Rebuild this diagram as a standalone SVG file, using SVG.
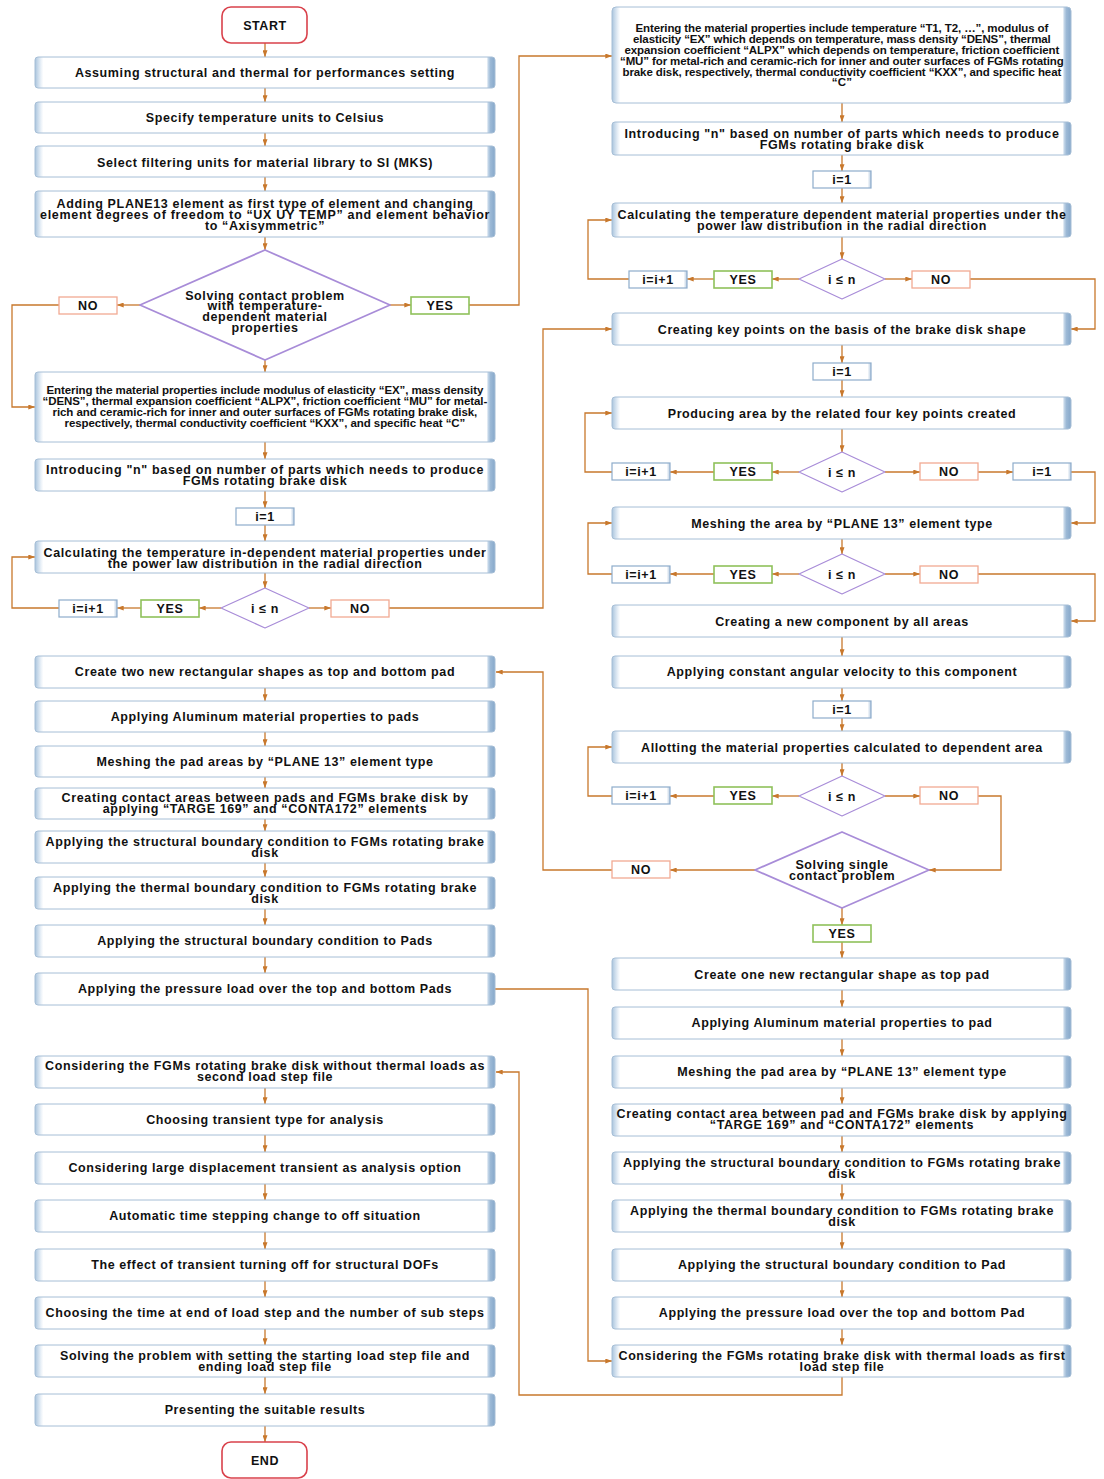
<svg xmlns="http://www.w3.org/2000/svg" width="1104" height="1479" viewBox="0 0 1104 1479">
<style>
.bx rect{fill:url(#bg);stroke:#a6bed6;stroke-width:1}
.t{font-family:"Liberation Sans",Arial,sans-serif;font-weight:bold;font-size:12.5px;fill:#111;text-anchor:middle;letter-spacing:0.6px}
.s{font-size:11.5px;letter-spacing:0.2px}
.term rect{fill:#fff;stroke:#d9414b;stroke-width:1.6}
.si rect{fill:url(#sg);stroke:#8eaccb;stroke-width:1.2}
.sy rect{fill:#fff;stroke:#8fc15b;stroke-width:1.6}
.sn rect{fill:#fff;stroke:#f2aa93;stroke-width:1.3}
.dm polygon{fill:#fff;stroke:#a88cd8;stroke-width:1.2;stroke-linejoin:round}
.dmb polygon{fill:#fff;stroke:#a88cd8;stroke-width:1.8;stroke-linejoin:round}
#conn path{fill:none;stroke:#c8782c;stroke-width:1.3;marker-end:url(#ah)}
</style>
<defs>
<linearGradient id="bg" x1="0" y1="0" x2="1" y2="0">
<stop offset="0" stop-color="#a9c4dd"/>
<stop offset="0.005" stop-color="#c3d6e8"/>
<stop offset="0.013" stop-color="#eaf1f8"/>
<stop offset="0.018" stop-color="#ffffff"/>
<stop offset="0.982" stop-color="#ffffff"/>
<stop offset="0.985" stop-color="#c5d7e9"/>
<stop offset="0.99" stop-color="#9cb9d6"/>
<stop offset="1" stop-color="#86a8ca"/>
</linearGradient>
<linearGradient id="sg" x1="0" y1="0" x2="1" y2="0">
<stop offset="0" stop-color="#ffffff"/>
<stop offset="0.94" stop-color="#ffffff"/>
<stop offset="1" stop-color="#b7cbe0"/>
</linearGradient>
<marker id="ah" viewBox="0 0 8 6" refX="8" refY="3" markerWidth="7" markerHeight="5" markerUnits="userSpaceOnUse" orient="auto">
<path d="M0,0 L8,3 L0,6 z" fill="#c8782c"/>
</marker>
</defs>
<rect width="1104" height="1479" fill="#fff"/>

<g id="conn">
<path d="M265,43 V57"/>
<path d="M265,88 V102"/>
<path d="M265,133 V146"/>
<path d="M265,177 V191"/>
<path d="M265,237 V250"/>
<path d="M140,305 H117"/>
<path d="M59,305 H12 V407 H35"/>
<path d="M390,305 H411"/>
<path d="M469,305 H519 V56 H612"/>
<path d="M265,360 V372"/>
<path d="M265,442 V459"/>
<path d="M265,491 V508"/>
<path d="M265,525 V541"/>
<path d="M265,573 V588"/>
<path d="M221,608 H199"/>
<path d="M141,608 H117"/>
<path d="M59,608 H12 V557 H35"/>
<path d="M309,608 H331"/>
<path d="M389,608 H543 V329 H612"/>
<path d="M265,688 V701"/>
<path d="M265,732 V746"/>
<path d="M265,777 V788"/>
<path d="M265,819 V831"/>
<path d="M265,863 V877"/>
<path d="M265,909 V925"/>
<path d="M265,957 V973"/>
<path d="M495,989 H588 V1361 H612"/>
<path d="M265,1088 V1104"/>
<path d="M265,1135 V1152"/>
<path d="M265,1184 V1200"/>
<path d="M265,1232 V1249"/>
<path d="M265,1281 V1297"/>
<path d="M265,1329 V1345"/>
<path d="M265,1377 V1394"/>
<path d="M265,1426 V1442"/>
<path d="M842,103 V122"/>
<path d="M842,155 V171"/>
<path d="M842,188 V203"/>
<path d="M842,237 V259"/>
<path d="M799,279 H772"/>
<path d="M714,279 H687"/>
<path d="M629,279 H588 V220 H612"/>
<path d="M885,279 H912"/>
<path d="M970,279 H1095 V329 H1071"/>
<path d="M842,345 V363"/>
<path d="M842,380 V397"/>
<path d="M842,429 V452"/>
<path d="M799,472 H772"/>
<path d="M714,472 H670"/>
<path d="M612,472 H585 V413 H612"/>
<path d="M885,472 H920"/>
<path d="M978,472 H1013"/>
<path d="M1071,472 H1095 V523 H1071"/>
<path d="M842,539 V554"/>
<path d="M799,574 H772"/>
<path d="M714,574 H670"/>
<path d="M612,574 H588 V523 H612"/>
<path d="M885,574 H920"/>
<path d="M978,574 H1095 V621 H1071"/>
<path d="M842,637 V656"/>
<path d="M842,688 V701"/>
<path d="M842,718 V731"/>
<path d="M842,763 V776"/>
<path d="M799,796 H772"/>
<path d="M714,796 H670"/>
<path d="M612,796 H588 V747 H612"/>
<path d="M885,796 H920"/>
<path d="M978,796 H1001 V870 H929"/>
<path d="M755,870 H670"/>
<path d="M612,870 H543 V672 H496"/>
<path d="M842,908 V925"/>
<path d="M842,942 V958"/>
<path d="M842,990 V1007"/>
<path d="M842,1039 V1056"/>
<path d="M842,1088 V1104"/>
<path d="M842,1136 V1152"/>
<path d="M842,1184 V1200"/>
<path d="M842,1232 V1249"/>
<path d="M842,1281 V1297"/>
<path d="M842,1329 V1345"/>
<path d="M842,1377 V1395 H519 V1072 H496"/>
</g>

<g id="start" class="term"><rect x="222" y="7" width="85" height="36" rx="9"/><text class="t" x="265" y="29.5">START</text></g>
<g id="l1" class="bx"><rect x="35" y="57" width="460" height="31" rx="3"/><text class="t" x="265" y="76.5">Assuming structural and thermal for performances setting</text></g>
<g id="l2" class="bx"><rect x="35" y="102" width="460" height="31" rx="3"/><text class="t" x="265" y="121.5">Specify temperature units to Celsius</text></g>
<g id="l3" class="bx"><rect x="35" y="146" width="460" height="31" rx="3"/><text class="t" x="265" y="166.5">Select filtering units for material library to SI (MKS)</text></g>
<g id="l4" class="bx"><rect x="35" y="191" width="460" height="46" rx="3"/>
<text class="t" x="265" y="207.5" textLength="417" lengthAdjust="spacing">Adding PLANE13 element as first type of element and changing</text>
<text class="t" x="265" y="218.5" textLength="450" lengthAdjust="spacing">element degrees of freedom to “UX UY TEMP” and element behavior</text>
<text class="t" x="265" y="229.5">to “Axisymmetric”</text></g>
<g id="d1" class="dmb"><polygon points="265,250 390,305 265,360 140,305"/>
<text class="t" x="265" y="299.5">Solving contact problem</text>
<text class="t" x="265" y="309.5">with temperature-</text>
<text class="t" x="265" y="320.5">dependent material</text>
<text class="t" x="265" y="331.5">properties</text></g>
<g id="no1" class="sn"><rect x="59" y="297" width="58" height="17"/><text class="t" x="88" y="310">NO</text></g>
<g id="yes1" class="sy"><rect x="411" y="297" width="58" height="17"/><text class="t" x="440" y="310">YES</text></g>
<g id="l5" class="bx"><rect x="35" y="372" width="460" height="70" rx="3"/>
<text class="t s" x="265" y="394" textLength="437" lengthAdjust="spacing">Entering the material properties include modulus of elasticity “EX”, mass density</text>
<text class="t s" x="265" y="405" textLength="445" lengthAdjust="spacing">“DENS”, thermal expansion coefficient “ALPX”, friction coefficient “MU” for metal-</text>
<text class="t s" x="265" y="415.5" textLength="425" lengthAdjust="spacing">rich and ceramic-rich for inner and outer surfaces of FGMs rotating brake disk,</text>
<text class="t s" x="265" y="426.5" textLength="401" lengthAdjust="spacing">respectively, thermal conductivity coefficient “KXX”, and specific heat “C”</text></g>
<g id="l6" class="bx"><rect x="35" y="459" width="460" height="32" rx="3"/>
<text class="t" x="265" y="473.5" textLength="438" lengthAdjust="spacing">Introducing "n" based on number of parts which needs to produce</text>
<text class="t" x="265" y="484.5">FGMs rotating brake disk</text></g>
<g id="i1" class="si"><rect x="236" y="508" width="58" height="17"/><text class="t" x="265" y="521">i=1</text></g>
<g id="l7" class="bx"><rect x="35" y="541" width="460" height="32" rx="3"/>
<text class="t" x="265" y="556.5" textLength="443" lengthAdjust="spacing">Calculating the temperature in-dependent material properties under</text>
<text class="t" x="265" y="567.5">the power law distribution in the radial direction</text></g>
<g id="d2" class="dm"><polygon points="265,588 309,608 265,628 221,608"/><text class="t" x="265" y="612.5">i ≤ n</text></g>
<g id="ii1" class="si"><rect x="59" y="600" width="58" height="17"/><text class="t" x="88" y="613">i=i+1</text></g>
<g id="yes2" class="sy"><rect x="141" y="600" width="58" height="17"/><text class="t" x="170" y="613">YES</text></g>
<g id="no2" class="sn"><rect x="331" y="600" width="58" height="17"/><text class="t" x="360" y="613">NO</text></g>
<g id="l8" class="bx"><rect x="35" y="656" width="460" height="32" rx="3"/><text class="t" x="265" y="675.5">Create two new rectangular shapes as top and bottom pad</text></g>
<g id="l9" class="bx"><rect x="35" y="701" width="460" height="31" rx="3"/><text class="t" x="265" y="720.5">Applying Aluminum material properties to pads</text></g>
<g id="l10" class="bx"><rect x="35" y="746" width="460" height="31" rx="3"/><text class="t" x="265" y="765.5">Meshing the pad areas by “PLANE 13” element type</text></g>
<g id="l11" class="bx"><rect x="35" y="788" width="460" height="31" rx="3"/>
<text class="t" x="265" y="801.5" textLength="407" lengthAdjust="spacing">Creating contact areas between pads and FGMs brake disk by</text>
<text class="t" x="265" y="812.5">applying “TARGE 169” and “CONTA172” elements</text></g>
<g id="l12" class="bx"><rect x="35" y="831" width="460" height="32" rx="3"/>
<text class="t" x="265" y="845.5" textLength="439" lengthAdjust="spacing">Applying the structural boundary condition to FGMs rotating brake</text>
<text class="t" x="265" y="856.5">disk</text></g>
<g id="l13" class="bx"><rect x="35" y="877" width="460" height="32" rx="3"/>
<text class="t" x="265" y="891.5" textLength="424" lengthAdjust="spacing">Applying the thermal boundary condition to FGMs rotating brake</text>
<text class="t" x="265" y="902.5">disk</text></g>
<g id="l14" class="bx"><rect x="35" y="925" width="460" height="32" rx="3"/><text class="t" x="265" y="944.5">Applying the structural boundary condition to Pads</text></g>
<g id="l15" class="bx"><rect x="35" y="973" width="460" height="32" rx="3"/><text class="t" x="265" y="992.5">Applying the pressure load over the top and bottom Pads</text></g>
<g id="l16" class="bx"><rect x="35" y="1056" width="460" height="32" rx="3"/>
<text class="t" x="265" y="1069.5" textLength="440" lengthAdjust="spacing">Considering the FGMs rotating brake disk without thermal loads as</text>
<text class="t" x="265" y="1080.5">second load step file</text></g>
<g id="l17" class="bx"><rect x="35" y="1104" width="460" height="31" rx="3"/><text class="t" x="265" y="1123.5">Choosing transient type for analysis</text></g>
<g id="l18" class="bx"><rect x="35" y="1152" width="460" height="32" rx="3"/><text class="t" x="265" y="1171.5">Considering large displacement transient as analysis option</text></g>
<g id="l19" class="bx"><rect x="35" y="1200" width="460" height="32" rx="3"/><text class="t" x="265" y="1219.5">Automatic time stepping change to off situation</text></g>
<g id="l20" class="bx"><rect x="35" y="1249" width="460" height="32" rx="3"/><text class="t" x="265" y="1268.5">The effect of transient turning off for structural DOFs</text></g>
<g id="l21" class="bx"><rect x="35" y="1297" width="460" height="32" rx="3"/><text class="t" x="265" y="1316.5" textLength="439" lengthAdjust="spacing">Choosing the time at end of load step and the number of sub steps</text></g>
<g id="l22" class="bx"><rect x="35" y="1345" width="460" height="32" rx="3"/>
<text class="t" x="265" y="1359.5" textLength="410" lengthAdjust="spacing">Solving the problem with setting the starting load step file and</text>
<text class="t" x="265" y="1370.5">ending load step file</text></g>
<g id="l23" class="bx"><rect x="35" y="1394" width="460" height="32" rx="3"/><text class="t" x="265" y="1413.5">Presenting the suitable results</text></g>
<g id="end" class="term"><rect x="222" y="1442" width="85" height="36" rx="9"/><text class="t" x="265" y="1464.5">END</text></g>

<g id="r1" class="bx"><rect x="612" y="7" width="459" height="96" rx="4"/>
<text class="t s" x="842" y="32" textLength="413" lengthAdjust="spacing">Entering the material properties include temperature “T1, T2, …”, modulus of</text>
<text class="t s" x="842" y="42.5" textLength="418" lengthAdjust="spacing">elasticity “EX” which depends on temperature, mass density “DENS”, thermal</text>
<text class="t s" x="842" y="53.5" textLength="435" lengthAdjust="spacing">expansion coefficient “ALPX” which depends on temperature, friction coefficient</text>
<text class="t s" x="842" y="64.5" textLength="444" lengthAdjust="spacing">“MU” for metal-rich and ceramic-rich for inner and outer surfaces of FGMs rotating</text>
<text class="t s" x="842" y="75.5" textLength="439" lengthAdjust="spacing">brake disk, respectively, thermal conductivity coefficient “KXX”, and specific heat</text>
<text class="t s" x="842" y="86">“C”</text></g>
<g id="r2" class="bx"><rect x="612" y="122" width="459" height="33" rx="3"/>
<text class="t" x="842" y="137.5" textLength="435" lengthAdjust="spacing">Introducing "n" based on number of parts which needs to produce</text>
<text class="t" x="842" y="148.5">FGMs rotating brake disk</text></g>
<g id="ri1" class="si"><rect x="813" y="171" width="58" height="17"/><text class="t" x="842" y="184">i=1</text></g>
<g id="r3" class="bx"><rect x="612" y="203" width="459" height="34" rx="3"/>
<text class="t" x="842" y="218.5" textLength="449" lengthAdjust="spacing">Calculating the temperature dependent material properties under the</text>
<text class="t" x="842" y="229.5">power law distribution in the radial direction</text></g>
<g id="rd1" class="dm"><polygon points="842,259 885,279 842,299 799,279"/><text class="t" x="842" y="283.5">i ≤ n</text></g>
<g id="rii1" class="si"><rect x="629" y="271" width="58" height="17"/><text class="t" x="658" y="284">i=i+1</text></g>
<g id="ryes1" class="sy"><rect x="714" y="271" width="58" height="17"/><text class="t" x="743" y="284">YES</text></g>
<g id="rno1" class="sn"><rect x="912" y="271" width="58" height="17"/><text class="t" x="941" y="284">NO</text></g>
<g id="r4" class="bx"><rect x="612" y="313" width="459" height="32" rx="3"/><text class="t" x="842" y="333.5">Creating key points on the basis of the brake disk shape</text></g>
<g id="ri2" class="si"><rect x="813" y="363" width="58" height="17"/><text class="t" x="842" y="376">i=1</text></g>
<g id="r5" class="bx"><rect x="612" y="397" width="459" height="32" rx="3"/><text class="t" x="842" y="417.5">Producing area by the related four key points created</text></g>
<g id="rd2" class="dm"><polygon points="842,452 885,472 842,492 799,472"/><text class="t" x="842" y="476.5">i ≤ n</text></g>
<g id="rii2" class="si"><rect x="612" y="463" width="58" height="17"/><text class="t" x="641" y="476">i=i+1</text></g>
<g id="ryes2" class="sy"><rect x="714" y="463" width="58" height="17"/><text class="t" x="743" y="476">YES</text></g>
<g id="rno2" class="sn"><rect x="920" y="463" width="58" height="17"/><text class="t" x="949" y="476">NO</text></g>
<g id="ri3" class="si"><rect x="1013" y="463" width="58" height="17"/><text class="t" x="1042" y="476">i=1</text></g>
<g id="r6" class="bx"><rect x="612" y="507" width="459" height="32" rx="3"/><text class="t" x="842" y="527.5">Meshing the area by “PLANE 13” element type</text></g>
<g id="rd3" class="dm"><polygon points="842,554 885,574 842,594 799,574"/><text class="t" x="842" y="578.5">i ≤ n</text></g>
<g id="rii3" class="si"><rect x="612" y="566" width="58" height="17"/><text class="t" x="641" y="579">i=i+1</text></g>
<g id="ryes3" class="sy"><rect x="714" y="566" width="58" height="17"/><text class="t" x="743" y="579">YES</text></g>
<g id="rno3" class="sn"><rect x="920" y="566" width="58" height="17"/><text class="t" x="949" y="579">NO</text></g>
<g id="r7" class="bx"><rect x="612" y="605" width="459" height="32" rx="3"/><text class="t" x="842" y="625.5">Creating a new component by all areas</text></g>
<g id="r8" class="bx"><rect x="612" y="656" width="459" height="32" rx="3"/><text class="t" x="842" y="675.5">Applying constant angular velocity to this component</text></g>
<g id="ri4" class="si"><rect x="813" y="701" width="58" height="17"/><text class="t" x="842" y="714">i=1</text></g>
<g id="r9" class="bx"><rect x="612" y="731" width="459" height="32" rx="3"/><text class="t" x="842" y="751.5">Allotting the material properties calculated to dependent area</text></g>
<g id="rd4" class="dm"><polygon points="842,776 885,796 842,816 799,796"/><text class="t" x="842" y="800.5">i ≤ n</text></g>
<g id="rii4" class="si"><rect x="612" y="787" width="58" height="17"/><text class="t" x="641" y="800">i=i+1</text></g>
<g id="ryes4" class="sy"><rect x="714" y="787" width="58" height="17"/><text class="t" x="743" y="800">YES</text></g>
<g id="rno4" class="sn"><rect x="920" y="787" width="58" height="17"/><text class="t" x="949" y="800">NO</text></g>
<g id="rd5" class="dmb"><polygon points="842,832 929,870 842,908 755,870"/>
<text class="t" x="842" y="868.5">Solving single</text>
<text class="t" x="842" y="879.5">contact problem</text></g>
<g id="rno5" class="sn"><rect x="612" y="861" width="58" height="17"/><text class="t" x="641" y="874">NO</text></g>
<g id="ryes5" class="sy"><rect x="813" y="925" width="58" height="17"/><text class="t" x="842" y="938">YES</text></g>
<g id="r10" class="bx"><rect x="612" y="958" width="459" height="32" rx="3"/><text class="t" x="842" y="978.5">Create one new rectangular shape as top pad</text></g>
<g id="r11" class="bx"><rect x="612" y="1007" width="459" height="32" rx="3"/><text class="t" x="842" y="1026.5">Applying Aluminum material properties to pad</text></g>
<g id="r12" class="bx"><rect x="612" y="1056" width="459" height="32" rx="3"/><text class="t" x="842" y="1075.5">Meshing the pad area by “PLANE 13” element type</text></g>
<g id="r13" class="bx"><rect x="612" y="1104" width="459" height="32" rx="3"/>
<text class="t" x="842" y="1117.5" textLength="451" lengthAdjust="spacing">Creating contact area between pad and FGMs brake disk by applying</text>
<text class="t" x="842" y="1128.5">“TARGE 169” and “CONTA172” elements</text></g>
<g id="r14" class="bx"><rect x="612" y="1152" width="459" height="32" rx="3"/>
<text class="t" x="842" y="1166.5" textLength="438" lengthAdjust="spacing">Applying the structural boundary condition to FGMs rotating brake</text>
<text class="t" x="842" y="1177.5">disk</text></g>
<g id="r15" class="bx"><rect x="612" y="1200" width="459" height="32" rx="3"/>
<text class="t" x="842" y="1214.5" textLength="424" lengthAdjust="spacing">Applying the thermal boundary condition to FGMs rotating brake</text>
<text class="t" x="842" y="1225.5">disk</text></g>
<g id="r16" class="bx"><rect x="612" y="1249" width="459" height="32" rx="3"/><text class="t" x="842" y="1268.5">Applying the structural boundary condition to Pad</text></g>
<g id="r17" class="bx"><rect x="612" y="1297" width="459" height="32" rx="3"/><text class="t" x="842" y="1316.5">Applying the pressure load over the top and bottom Pad</text></g>
<g id="r18" class="bx"><rect x="612" y="1345" width="459" height="32" rx="3"/>
<text class="t" x="842" y="1359.5" textLength="447" lengthAdjust="spacing">Considering the FGMs rotating brake disk with thermal loads as first</text>
<text class="t" x="842" y="1370.5">load step file</text></g>
</svg>
